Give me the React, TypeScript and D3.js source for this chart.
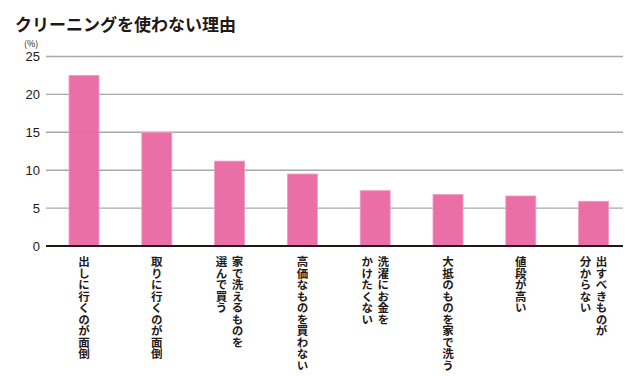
import React from "react";
import * as d3 from "d3";

const categories: string[][] = [
  ["出しに行くのが面倒"],
  ["取りに行くのが面倒"],
  ["家で洗えるものを", "選んで買う"],
  ["高価なものを買わない"],
  ["洗濯にお金を", "かけたくない"],
  ["大抵のものを家で洗う"],
  ["値段が高い"],
  ["出すべきものが", "分からない"],
];
const values: number[] = [22.5, 15.0, 11.2, 9.5, 7.3, 6.8, 6.6, 5.9];
const yTicks: number[] = [0, 5, 10, 15, 20, 25];
const title = "クリーニングを使わない理由";
const unitLabel = "(%)";

const W = 640;
const H = 376;
const axisLeft = 46;
const axisRight = 623;

export default function App() {
  const keys = categories.map((c) => c.join(""));
  const x = d3
    .scaleBand<string>()
    .domain(keys)
    .range([47.6, 630])
    .paddingInner(0.588)
    .paddingOuter(0.294);
  const y = d3.scaleLinear().domain([0, 25]).range([246, 56.5]);
  const jp = "'Noto Sans CJK JP', 'Noto Sans', sans-serif";
  const num = "'Liberation Sans', Arial, sans-serif";

  return (
    <svg
      width={W}
      height={H}
      style={{ position: "absolute", left: 0, top: 0, background: "#fff" }}
    >
      <text x={15} y={31} fontFamily={jp} fontWeight={700} fontSize={17} fill="#231815">
        {title}
      </text>
      <text x={24} y={47} fontFamily={jp} fontSize={9} fill="#231815">
        {unitLabel}
      </text>
      {yTicks.map((t) => (
        <g key={t}>
          {t > 0 && (
            <line
              x1={axisLeft}
              x2={axisRight}
              y1={y(t)}
              y2={y(t)}
              stroke="#a8a8a8"
              strokeWidth={1.4}
            />
          )}
          <text
            x={40}
            y={y(t)}
            textAnchor="end"
            dominantBaseline="central"
            fontFamily={num}
            fontSize={13}
            fill="#231815"
          >
            {t}
          </text>
        </g>
      ))}
      {values.map((v, i) => (
        <rect
          key={keys[i]}
          x={x(keys[i])}
          y={y(v)}
          width={x.bandwidth()}
          height={y(0) - y(v)}
          fill="#ea6aa4"
          fillOpacity={0.97}
          stroke="#f29cc3"
          strokeWidth={0.8}
        />
      ))}
      <line
        x1={axisLeft}
        x2={axisRight}
        y1={y(0)}
        y2={y(0)}
        stroke="#231815"
        strokeWidth={1.8}
      />
      {categories.map((lines, i) => {
        const cx = (x(keys[i]) as number) + x.bandwidth() / 2;
        const n = lines.length;
        const gap = 16;
        return (
          <g key={keys[i]}>
            {lines.map((ln, j) => {
              const colX = cx + ((n - 1) / 2 - j) * gap;
              return (
                <text
                  key={j}
                  x={colX}
                  y={256}
                  fontFamily={jp}
                  fontWeight={700}
                  fontSize={11.5}
                  fill="#231815"
                  style={{ writingMode: "vertical-rl" as any }}
                >
                  {ln}
                </text>
              );
            })}
          </g>
        );
      })}
    </svg>
  );
}
